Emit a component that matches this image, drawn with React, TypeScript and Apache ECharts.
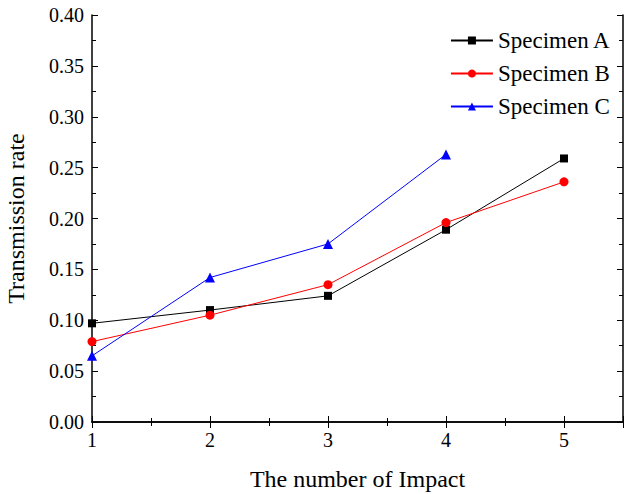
import React, { useEffect, useRef } from "react";
import * as echarts from "echarts";

const impacts = [1, 2, 3, 4, 5];
const specimenA = [0.097, 0.11, 0.124, 0.189, 0.259];
const specimenB = [0.079, 0.105, 0.135, 0.196, 0.236];
const specimenC = [0.065, 0.142, 0.175, 0.263];
const seriesNames = ["Specimen A", "Specimen B", "Specimen C"];

const FONT = "'Liberation Serif', 'Times New Roman', serif";

export default function App() {
  const ref = useRef<HTMLDivElement>(null);
  useEffect(() => {
    if (!ref.current) return;
    const chart = echarts.init(ref.current, undefined, { renderer: "svg" });
    const pairs = (vals: number[]) => vals.map((v, i) => [impacts[i], v]);
    const axisLine = { show: true, lineStyle: { color: "#000", width: 1.5 } };
    const xCommon = {
      type: "value" as const,
      min: 1,
      max: 5.5,
      interval: 1,
      splitLine: { show: false },
      axisLine,
      axisTick: { show: true, inside: true, length: 6, lineStyle: { color: "#000", width: 1 } },
      minorTick: { show: true, splitNumber: 2, length: 4, lineStyle: { color: "#000", width: 1 } },
      minorSplitLine: { show: false },
    };
    const yCommon = {
      type: "value" as const,
      min: 0,
      max: 0.4,
      interval: 0.05,
      splitLine: { show: false },
      axisLine,
      axisTick: { show: true, inside: true, length: 6, lineStyle: { color: "#000", width: 1 } },
      minorTick: { show: true, splitNumber: 2, length: 4, lineStyle: { color: "#000", width: 1 } },
      minorSplitLine: { show: false },
    };
    chart.setOption({
      animation: false,
      backgroundColor: "#fff",
      textStyle: { fontFamily: FONT },
      grid: { left: 92, right: 1, top: 15, bottom: 72, containLabel: false, outerBoundsMode: "none" },
      legend: {
        orient: "vertical",
        right: 8,
        top: 24,
        itemWidth: 42,
        itemHeight: 10,
        itemGap: 10,
        data: seriesNames,
        textStyle: { fontFamily: FONT, fontSize: 23, color: "#000" },
      },
      xAxis: [
        {
          ...xCommon,
          position: "bottom",
          name: "The number of Impact",
          nameLocation: "middle",
          nameGap: 45,
          nameTextStyle: { fontFamily: FONT, fontSize: 24, color: "#000" },
          axisLabel: {
            fontFamily: FONT,
            fontSize: 20,
            color: "#000",
            margin: 8,
            formatter: (v: number) => (Number.isInteger(v) ? String(v) : ""),
          },
        },
        {
          ...xCommon,
          position: "top",
          axisLabel: { show: false },
        },
      ],
      yAxis: [
        {
          ...yCommon,
          position: "left",
          name: "Transmission rate",
          nameLocation: "middle",
          nameGap: 64,
          nameTextStyle: { fontFamily: FONT, fontSize: 24, color: "#000" },
          axisLabel: {
            fontFamily: FONT,
            fontSize: 20,
            color: "#000",
            margin: 8,
            formatter: (v: number) => v.toFixed(2),
          },
        },
        {
          ...yCommon,
          position: "right",
          axisLabel: { show: false },
        },
      ],
      series: [
        {
          name: seriesNames[0],
          type: "line",
          data: pairs(specimenA),
          symbol: "rect",
          symbolSize: 8,
          itemStyle: { color: "#000" },
          lineStyle: { color: "#000", width: 1 },
        },
        {
          name: seriesNames[1],
          type: "line",
          data: pairs(specimenB),
          symbol: "circle",
          symbolSize: 9,
          itemStyle: { color: "#ff0000" },
          lineStyle: { color: "#ff0000", width: 1 },
        },
        {
          name: seriesNames[2],
          type: "line",
          data: pairs(specimenC),
          symbol: "triangle",
          symbolSize: 10,
          itemStyle: { color: "#0000ff" },
          lineStyle: { color: "#0000ff", width: 1 },
        },
      ],
    });
    return () => chart.dispose();
  }, []);
  return (
    <div
      ref={ref}
      style={{ position: "fixed", left: 0, top: 0, width: 624, height: 494, background: "#fff" }}
    />
  );
}
